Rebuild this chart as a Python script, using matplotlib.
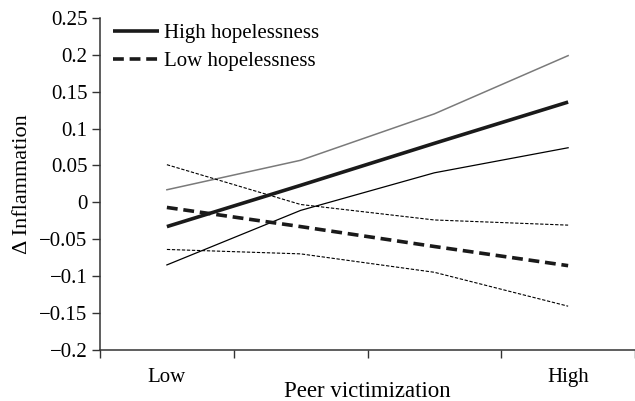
import matplotlib.pyplot as plt

plt.rcParams['font.family'] = ['Liberation Serif', 'DejaVu Serif']
plt.rcParams['axes.unicode_minus'] = True

x = [0, 1, 2, 3]
xlabels = ["Low", "", "", "High"]

high = [-0.033, 0.023, 0.080, 0.136]
high_upper = [0.017, 0.057, 0.120, 0.199]
high_lower = [-0.085, -0.011, 0.040, 0.074]

low = [-0.007, -0.033, -0.060, -0.086]
low_upper = [0.051, -0.003, -0.024, -0.031]
low_lower = [-0.064, -0.070, -0.095, -0.141]

fig = plt.figure(figsize=(6.35, 4.01), dpi=100)
ax = fig.add_axes([0.1575, 0.128, 0.8425, 0.827])

ax.plot(x, high_upper, color="#7a7a7a", lw=1.1)
ax.plot(x, high_lower, color="black", lw=0.9)
ax.plot(x, low_upper, color="black", lw=0.8, dashes=(3, 1.5))
ax.plot(x, low_lower, color="black", lw=0.8, dashes=(3, 1.5))
ax.plot(x, high, color="#1a1a1a", lw=2.6, label="High hopelessness", solid_capstyle="butt")
ax.plot(x, low, color="#1a1a1a", lw=2.6, dashes=(3, 1.6), label="Low hopelessness")

ax.set_xlim(-0.5, 3.5)
ax.set_ylim(-0.2, 0.25)
ax.set_yticks([-0.2, -0.15, -0.1, -0.05, 0, 0.05, 0.1, 0.15, 0.2, 0.25])
ax.set_yticklabels(["\u22120.2", "\u22120.15", "\u22120.1", "\u22120.05", "0",
                    "0.05", "0.1", "0.15", "0.2", "0.25"])
ax.set_xticks([-0.5, 0.5, 1.5, 2.5, 3.5])
ax.set_xticklabels([])
ax.set_xticks(x, minor=True)
ax.set_xticklabels(xlabels, minor=True)
ax.tick_params(axis="x", which="minor", length=0, pad=13, labelsize=15)
ax.tick_params(axis="x", which="major", length=6, width=1, direction="out", color="#333333")
ax.tick_params(axis="y", length=6, width=1, direction="out", labelsize=15, color="#333333", pad=3)

for s in ["top", "right"]:
    ax.spines[s].set_visible(False)
for s in ["left", "bottom"]:
    ax.spines[s].set_color("#333333")
    ax.spines[s].set_linewidth(1.1)

ax.set_xlabel("Peer victimization", fontsize=16.5, labelpad=-4)
ax.set_ylabel("\u0394 Inflammation", fontsize=16, labelpad=5)

ax.legend(loc="upper left", bbox_to_anchor=(-0.01, 1.04), frameon=False,
          fontsize=15, handlelength=2.2, handletextpad=0.25, labelspacing=0.4)

fig.savefig("out.png", dpi=100)
